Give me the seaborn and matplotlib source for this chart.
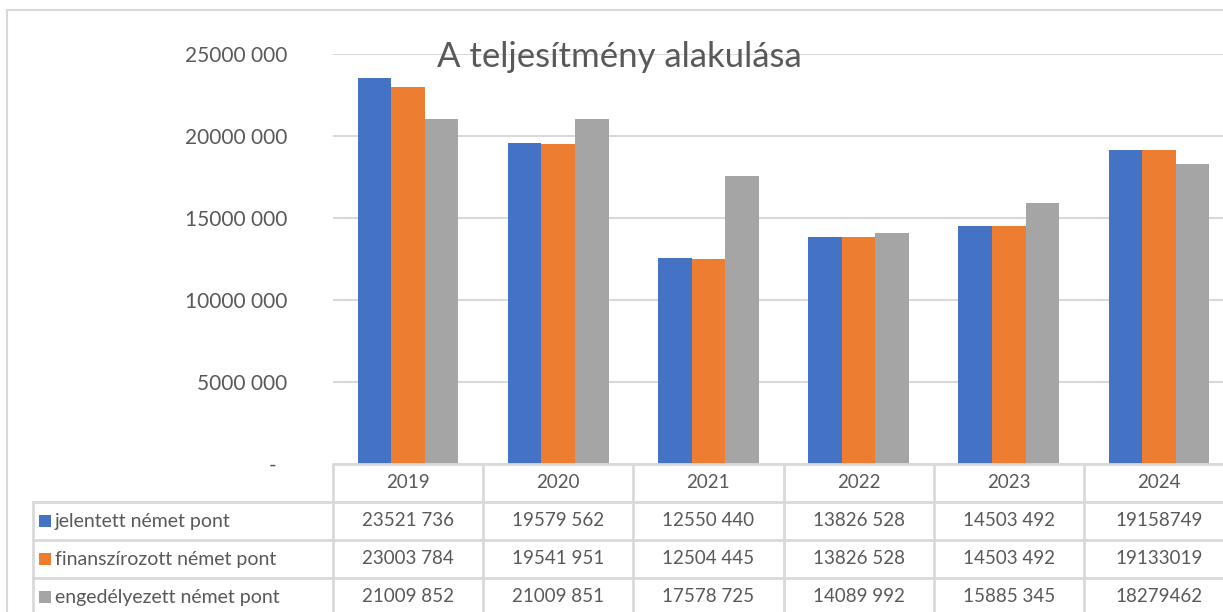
import matplotlib
matplotlib.use("Agg")
import matplotlib.pyplot as plt
from matplotlib.lines import Line2D
from matplotlib.patches import Rectangle
import seaborn as sns
import pandas as pd

years = ["2019", "2020", "2021", "2022", "2023", "2024"]
series_names = ["jelentett német pont", "finanszírozott német pont", "engedélyezett német pont"]
jelentett = [23521736, 19579562, 12550440, 13826528, 14503492, 19158749]
finanszirozott = [23003784, 19541951, 12504445, 13826528, 14503492, 19133019]
engedelyezett = [21009852, 21009851, 17578725, 14089992, 15885345, 18279462]
# last year's values are shown without a thousands separator in the source table
grouped_format = [True, True, True, True, True, False]
colors = ["#4472C4", "#ED7D31", "#A5A5A5"]
title = "A teljesítmény alakulása"
y_ticks = [0, 5000000, 10000000, 15000000, 20000000, 25000000]

series_values = [jelentett, finanszirozott, engedelyezett]
rows = []
for name, vals in zip(series_names, series_values):
    for yr, v in zip(years, vals):
        rows.append({"year": yr, "series": name, "value": v})
df = pd.DataFrame(rows)

sns.set_theme(style="white")
plt.rcParams["font.family"] = ["Lato", "DejaVu Sans"]

W, H = 1223, 612
fig = plt.figure(figsize=(W / 100, H / 100), dpi=100)
fig.patch.set_facecolor("white")

# axes in pixel coordinates
x0, x1 = 333, 1234
y_top, y_bot = 54, 464
ax = fig.add_axes([x0 / W, (H - y_bot) / H, (x1 - x0) / W, (y_bot - y_top) / H])

sns.barplot(data=df, x="year", y="value", hue="series", order=years,
            hue_order=series_names, palette=colors, width=0.67, gap=0,
            saturation=1, linewidth=0, ax=ax, legend=False)

ax.set_xlim(-0.5, len(years) - 0.5)
ax.set_ylim(0, 25000000)
ax.set_yticks(y_ticks)

def fmt(v):
    v = int(v)
    if v == 0:
        return "-  "
    return f"{v // 1000} {v % 1000:03d}"

ax.set_yticklabels([fmt(v) for v in y_ticks])
ax.tick_params(axis="y", length=0, pad=33, labelsize=15, labelcolor="#595959")
ax.set_xticks([])
ax.set_xlabel("")
ax.set_ylabel("")
for s in ax.spines.values():
    s.set_visible(False)
ax.yaxis.grid(True, color="#D9D9D9", linewidth=1.5)
ax.set_axisbelow(True)

# title
fig.text(619 / W, 1 - 67 / H, title, ha="center", va="baseline",
         fontsize=25, color="#595959")

# outer chart border
fig.add_artist(Rectangle((7 / W, -0.1), 1.2, 1 - 9.5 / H + 0.1, transform=fig.transFigure,
                         fill=False, edgecolor="#D9D9D9", linewidth=1.5))

# data table
grid_c = "#D9D9D9"
col_w = (x1 - x0) / len(years)
row_lines = [464, 502, 540, 578]
left_col = 33

def hline(y, xa, xb):
    fig.add_artist(Line2D([xa / W, xb / W], [1 - y / H, 1 - y / H],
                          transform=fig.transFigure, color=grid_c, linewidth=2))

def vline(x, ya, yb):
    fig.add_artist(Line2D([x / W, x / W], [1 - ya / H, 1 - yb / H],
                          transform=fig.transFigure, color=grid_c, linewidth=2))

hline(464, x0, W + 10)
for y in row_lines[1:]:
    hline(y, left_col, W + 10)
vline(left_col, 502, H + 10)
for i in range(len(years) + 1):
    x = x0 + i * col_w
    vline(x, 464, H + 10)

txt_c = "#595959"
for i, yr in enumerate(years):
    cx = x0 + (i + 0.5) * col_w
    fig.text(cx / W, 1 - 483 / H, yr, ha="center", va="center", fontsize=13.5, color=txt_c)

row_centers = [521, 559, 597]
for r, (name, vals, c) in enumerate(zip(series_names, series_values, colors)):
    cy = row_centers[r]
    fig.add_artist(Rectangle((39 / W, 1 - (cy + 6) / H), 12 / W, 12 / H,
                             transform=fig.transFigure, facecolor=c, edgecolor="none"))
    fig.text(55 / W, 1 - cy / H, name, ha="left", va="center", fontsize=14, color=txt_c)
    for i, v in enumerate(vals):
        cx = x0 + (i + 0.5) * col_w
        s = f"{v // 1000} {v % 1000:03d}" if grouped_format[i] else str(v)
        fig.text(cx / W, 1 - cy / H, s, ha="center", va="center", fontsize=13.5, color=txt_c)

fig.savefig("out.png", dpi=100)
